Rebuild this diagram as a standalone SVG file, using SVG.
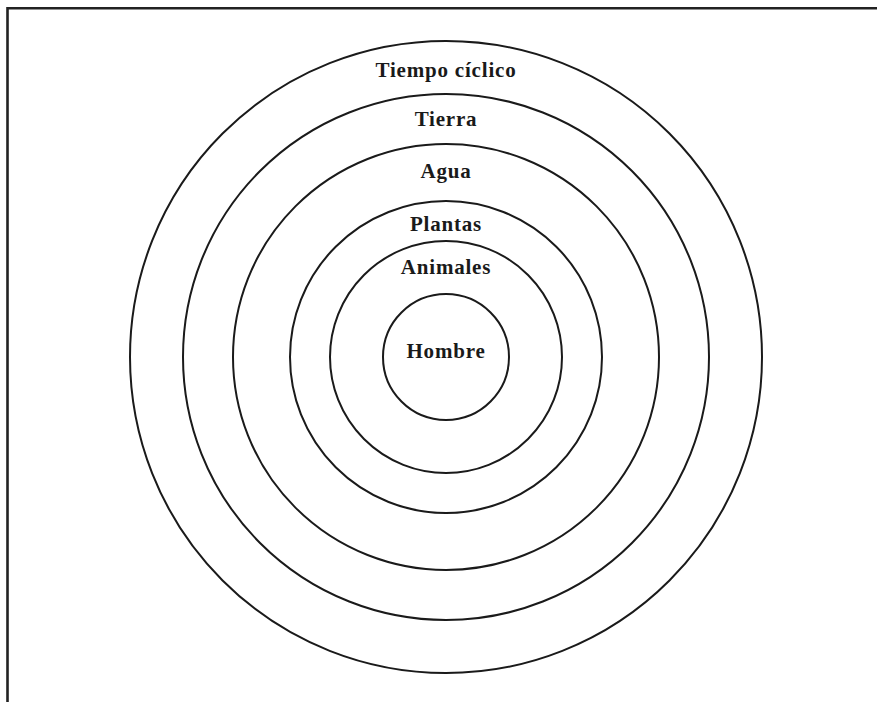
<svg xmlns="http://www.w3.org/2000/svg" width="877" height="702" viewBox="0 0 877 702">
<style>
.ring{fill:none;stroke:#1a1a1a;stroke-width:2}
.lbl{font-family:"Liberation Serif","Times New Roman",serif;font-weight:bold;font-size:21px;letter-spacing:0.8px;fill:#1a1a1a;text-anchor:middle}
.frame{fill:none;stroke:#222;stroke-width:2.6}
</style>
<rect width="877" height="702" fill="#fff"/>
<polyline class="frame" points="7.5,702 7.5,8.3 877,8.3"/>
<g id="tiempo"><circle class="ring" cx="446" cy="357" r="316"/><text class="lbl" x="446" y="77">Tiempo cíclico</text></g>
<g id="tierra"><circle class="ring" cx="446" cy="357" r="263"/><text class="lbl" x="446" y="126">Tierra</text></g>
<g id="agua"><circle class="ring" cx="446" cy="357" r="213"/><text class="lbl" x="446" y="178">Agua</text></g>
<g id="plantas"><circle class="ring" cx="446" cy="357" r="156"/><text class="lbl" x="446" y="231">Plantas</text></g>
<g id="animales"><circle class="ring" cx="446" cy="357" r="116"/><text class="lbl" x="446" y="274">Animales</text></g>
<g id="hombre"><circle class="ring" cx="446" cy="357" r="63"/><text class="lbl" x="446" y="358">Hombre</text></g>
<g id="connectors"/>
</svg>
